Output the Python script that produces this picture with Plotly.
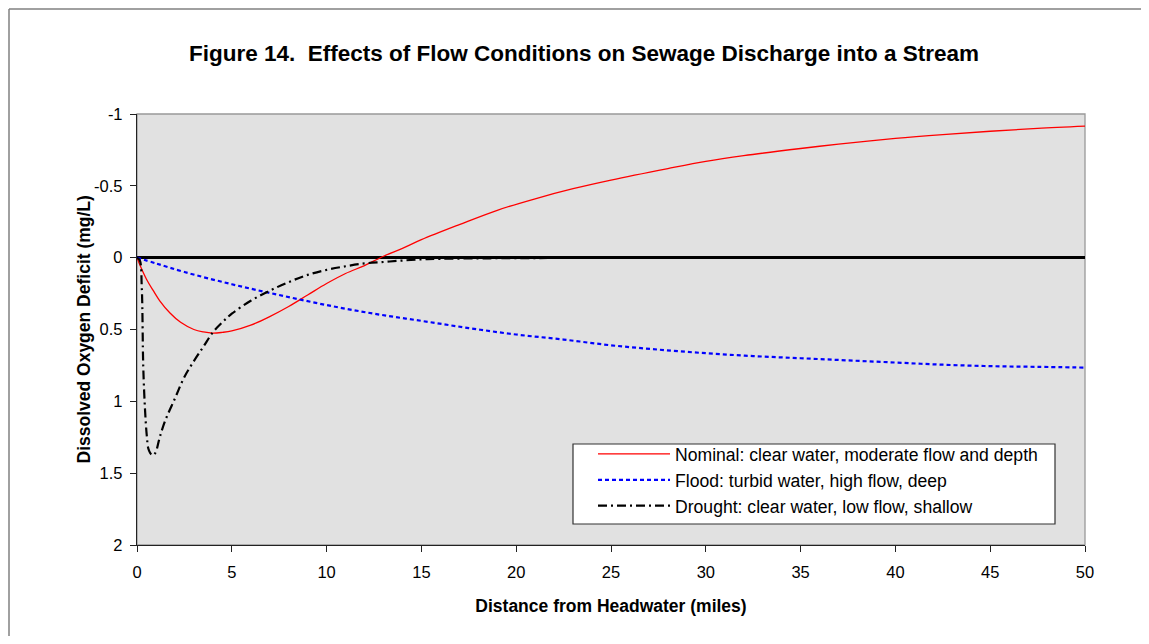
import plotly.graph_objects as go

# ---- data ----
nominal_x = [0, 0.2, 0.5, 0.86, 1.2, 1.74, 2.3, 3, 3.5, 4, 4.5, 5, 6, 7, 8, 9, 10, 11, 12, 13,
             14, 15, 17, 19, 21, 23, 25, 28, 30, 32, 35, 37, 40, 42.5, 45, 47.5, 50]
nominal_y = [0, 0.065, 0.15, 0.23, 0.30, 0.385, 0.45, 0.50, 0.517, 0.525, 0.52, 0.51, 0.47, 0.41,
             0.34, 0.26, 0.18, 0.11, 0.055, -0.01, -0.065, -0.125, -0.23, -0.33, -0.41, -0.48,
             -0.54, -0.62, -0.67, -0.71, -0.76, -0.79, -0.83, -0.857, -0.88, -0.9, -0.915]

flood_x = [0, 1, 2.5, 5, 7.5, 10, 12.5, 15, 17.5, 20, 22.5, 25, 27.5, 30, 32.5, 35, 37.5, 40,
           42.5, 45, 47.5, 50]
flood_y = [0, 0.04, 0.10, 0.185, 0.26, 0.33, 0.39, 0.44, 0.49, 0.535, 0.57, 0.61, 0.64, 0.665,
           0.685, 0.70, 0.715, 0.73, 0.745, 0.755, 0.76, 0.765]

drought_x = [0, 0.15, 0.25, 0.33, 0.42, 0.51, 0.6, 0.7, 0.8, 0.9, 1.0, 1.2, 1.5, 2.0, 2.5, 3.0,
             3.5, 4, 4.5, 5, 6, 7, 8, 9, 10, 11, 12, 13, 14, 15, 16, 18, 20, 25, 30, 40, 50]
drought_y = [0, 0.02, 0.2, 0.76, 1.05, 1.23, 1.33, 1.36, 1.375, 1.37, 1.35, 1.25, 1.13, 0.98,
             0.83, 0.72, 0.62, 0.52, 0.45, 0.39, 0.30, 0.23, 0.17, 0.12, 0.085, 0.06, 0.04,
             0.03, 0.02, 0.012, 0.008, 0.005, 0.003, 0.002, 0.001, 0, 0]

series_names = ["Nominal: clear water, moderate flow and depth",
                "Flood: turbid water, high flow, deep",
                "Drought: clear water, low flow, shallow"]

y_tickvals = [-1, -0.5, 0, 0.5, 1, 1.5, 2]
y_ticktext = ["-1", "-0.5", "0", "0.5", "1", "1.5", "2"]
x_tickvals = [0, 5, 10, 15, 20, 25, 30, 35, 40, 45, 50]

FONT = "Liberation Sans, Arial, sans-serif"

fig = go.Figure()
fig.add_trace(go.Scatter(x=nominal_x, y=nominal_y, mode="lines", name=series_names[0],
                         line=dict(color="#FF0000", width=1.3), line_shape="spline"))
fig.add_trace(go.Scatter(x=flood_x, y=flood_y, mode="lines", name=series_names[1],
                         line=dict(color="#0000FF", width=2.2, dash="4px,3px"), line_shape="spline"))
fig.add_trace(go.Scatter(x=drought_x, y=drought_y, mode="lines", name=series_names[2],
                         line=dict(color="#000000", width=2.2, dash="9px,4px,2px,4px"), line_shape="spline"))

# the page body adds an 8px margin on every side; size the figure so the page does not scroll
OFF = 8
W, H = 1149 - 2 * OFF, 644 - 2 * OFF
L, T = 137 - OFF, 114 - OFF
R = W - (1085 - OFF)
B = H - (545 - OFF)
pw, ph = W - L - R, H - T - B


def px_x(sx):
    """screen x -> paper x"""
    return (sx - 137) / pw


def px_y(sy):
    """screen y -> paper y"""
    return (545 - sy) / ph


fig.update_layout(
    width=W, height=H,
    margin=dict(l=L, r=R, t=T, b=B),
    paper_bgcolor="white",
    plot_bgcolor="#E1E1E1",
    font=dict(family=FONT, size=16.5, color="black"),
    title=dict(text="<b>Figure 14.  Effects of Flow Conditions on Sewage Discharge into a Stream</b>",
               x=px_x(584), xref="paper", xanchor="center",
               y=1 - (53 - OFF) / H, yref="container", yanchor="middle",
               font=dict(family=FONT, size=22.5, color="black")),
    showlegend=True,
    legend=dict(x=px_x(593), y=px_y(436), xanchor="left", yanchor="top",
                bgcolor="rgba(0,0,0,0)", borderwidth=0,
                font=dict(family=FONT, size=17.6, color="black"),
                itemwidth=72, tracegroupgap=0),
    xaxis=dict(range=[0, 50], tickvals=x_tickvals, showgrid=False, zeroline=False,
               showline=True, linecolor="#222222", linewidth=1.3,
               ticks="outside", ticklen=6, tickcolor="#222222", ticklabelstandoff=6,
               title=dict(text="<b>Distance from Headwater (miles)</b>", standoff=19,
                          font=dict(family=FONT, size=17.5))),
    yaxis=dict(range=[2, -1], tickvals=y_tickvals, ticktext=y_ticktext, showgrid=False,
               zeroline=True, zerolinecolor="black", zerolinewidth=3,
               showline=True, linecolor="#222222", linewidth=1.3,
               ticks="outside", ticklen=6, tickcolor="#222222", ticklabelstandoff=4),
)

# y axis title placed as annotation
fig.add_annotation(text="<b>Dissolved Oxygen Deficit (mg/L)</b>", textangle=-90,
                   xref="paper", yref="paper", x=px_x(83), y=0.5,
                   xanchor="center", yanchor="middle", showarrow=False,
                   font=dict(family=FONT, size=17.5, color="black"))

# gray frame on top / right of plot area
fig.add_shape(type="rect", xref="paper", yref="paper", x0=0, y0=0, x1=1, y1=1,
              line=dict(color="#999999", width=1.3), fillcolor="rgba(0,0,0,0)", layer="below")

# legend box
fig.add_shape(type="rect", xref="paper", yref="paper",
              x0=px_x(573), y0=px_y(524), x1=px_x(1055), y1=px_y(444),
              line=dict(color="#333333", width=1.2), fillcolor="white", layer="above")

# outer chart-area border: only its left and top edges are inside the image
fig.add_shape(type="line", xref="paper", yref="paper",
              x0=px_x(9), y0=px_y(644 - OFF), x1=px_x(9), y1=px_y(9),
              line=dict(color="#808080", width=1.5), layer="below")
fig.add_shape(type="line", xref="paper", yref="paper",
              x0=px_x(9), y0=px_y(9), x1=px_x(1149 - OFF), y1=px_y(9),
              line=dict(color="#808080", width=1.5), layer="below")

fig.write_html("out.html")
